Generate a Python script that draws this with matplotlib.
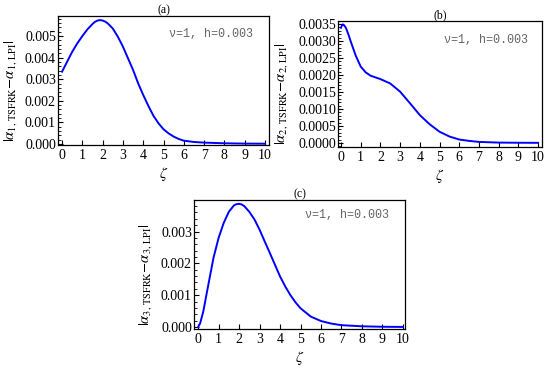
import matplotlib
matplotlib.use("Agg")
import matplotlib.pyplot as plt
from matplotlib.ticker import MultipleLocator, FormatStrFormatter

plt.rcParams['font.family'] = ['Liberation Serif', 'DejaVu Serif']
plt.rcParams['mathtext.fontset'] = 'stix'

# ---- data ----
zeta_a = [0, 0.25, 0.5, 0.75, 1, 1.25, 1.5, 1.625, 1.75, 1.875, 2, 2.125, 2.25, 2.5,
          2.75, 3, 3.25, 3.5, 3.75, 4, 4.25, 4.5, 4.75, 5, 5.25, 5.5, 5.75, 6, 6.5, 7,
          8, 9, 10]
err_a = [3.35, 3.81, 4.27, 4.66, 5.00, 5.31, 5.56, 5.66, 5.72, 5.74, 5.72, 5.67, 5.59,
         5.35, 4.97, 4.51, 3.97, 3.43, 2.81, 2.27, 1.77, 1.31, 0.96, 0.68, 0.49, 0.34,
         0.23, 0.15, 0.09, 0.06, 0.03, 0.015, 0.01]

zeta_b = [0, 0.05, 0.1, 0.15, 0.25, 0.375, 0.5, 0.75, 1, 1.25, 1.5, 2, 2.5, 3, 3.5, 4,
          4.5, 5, 5.5, 6, 6.5, 7, 8, 9, 10]
err_b = [3.39, 3.46, 3.49, 3.47, 3.39, 3.20, 2.98, 2.57, 2.25, 2.08, 1.98, 1.88, 1.75,
         1.51, 1.17, 0.82, 0.55, 0.33, 0.19, 0.10, 0.06, 0.03, 0.01, 0.005, 0.003]

zeta_c = [0, 0.1, 0.25, 0.5, 0.75, 1, 1.25, 1.5, 1.75, 1.875, 2, 2.125, 2.25, 2.5,
          2.75, 3, 3.25, 3.5, 3.75, 4, 4.25, 4.5, 4.75, 5, 5.5, 6, 6.5, 7, 8, 9, 10]
err_c = [0.0, 0.12, 0.48, 1.33, 2.17, 2.80, 3.27, 3.62, 3.82, 3.86, 3.87, 3.85, 3.80,
         3.62, 3.38, 3.06, 2.69, 2.33, 1.96, 1.59, 1.28, 1.01, 0.78, 0.59, 0.33, 0.19,
         0.11, 0.06, 0.025, 0.01, 0.005]

titles = ['(a)', '(b)', '(c)']
ylabels = [r'$|\alpha_{1,\,\mathrm{TSFRK}}{-}\alpha_{1,\,\mathrm{LPI}}|$',
           r'$|\alpha_{2,\,\mathrm{TSFRK}}{-}\alpha_{2,\,\mathrm{LPI}}|$',
           r'$|\alpha_{3,\,\mathrm{TSFRK}}{-}\alpha_{3,\,\mathrm{LPI}}|$']
note = 'ν=1, h=0.003'
xticks = list(range(0, 11))

W, H = 550, 374
fig = plt.figure(figsize=(5.5, 3.74), dpi=100)

def make_ax(l, r, t, b):
    return fig.add_axes([l / W, 1 - b / H, (r - l) / W, (b - t) / H])

ax_a = make_ax(58, 269, 16, 145)
ax_b = make_ax(338, 542, 21, 147)
ax_c = make_ax(194, 405, 200, 329)

panels = [
    (ax_a, zeta_a, err_a, (-0.2, 10.2), (-0.00005, 0.00593), 0.001, 0.0002, '%.3f', -0.183, (0.924, 0.86)),
    (ax_b, zeta_b, err_b, (-0.15, 10.2), (-0.00012, 0.00359), 0.0005, 0.0001, '%.4f', -0.235, (0.931, 0.85)),
    (ax_c, zeta_c, err_c, (-0.2, 10.1), (-0.00006, 0.00399), 0.001, 0.0002, '%.3f', -0.19, (0.924, 0.884)),
]

for i, (ax, z, e, xl, yl, maj, mnr, fmt, ylx, npos) in enumerate(panels):
    ax.plot(z, [v * 1e-3 for v in e], color='#0000ff', lw=1.4)
    ax.set_xlim(*xl)
    ax.set_ylim(*yl)
    ax.set_xticks(xticks)
    ax.yaxis.set_major_locator(MultipleLocator(maj))
    ax.yaxis.set_minor_locator(MultipleLocator(mnr))
    ax.yaxis.set_major_formatter(FormatStrFormatter(fmt))
    ax.tick_params(axis='both', which='major', direction='in', length=3.5, width=0.8,
                   labelsize=10, pad=1.5)
    ax.tick_params(axis='x', which='major', pad=3)
    ax.tick_params(axis='y', which='minor', direction='in', length=2, width=0.6)
    ax.tick_params(top=False, right=False, which='both')
    for s in ax.spines.values():
        s.set_linewidth(0.9)
    ax.set_title(titles[i], fontsize=8.5, pad=2)
    ax.set_xlabel(r'$\zeta$', fontsize=11, labelpad=2)
    ax.set_ylabel(ylabels[i], fontsize=10.5)
    ax.yaxis.set_label_coords(ylx, 0.42)
    ax.text(npos[0], npos[1], note, transform=ax.transAxes, ha='right', va='center',
            fontsize=8.5, color='#666666', family=['Liberation Mono', 'DejaVu Sans Mono'])

fig.savefig('out.png', dpi=100)
